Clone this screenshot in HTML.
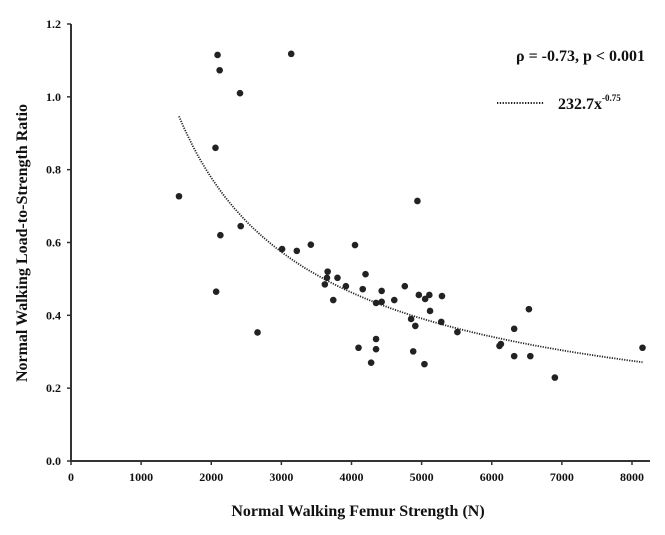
<!DOCTYPE html>
<html><head><meta charset="utf-8">
<style>
html,body{margin:0;padding:0;background:#fff;}
svg{display:block;font-family:"Liberation Serif",serif;font-weight:bold;}
</style></head>
<body>
<svg width="665" height="535" viewBox="0 0 665 535">
<g id="axes"></g>
<g id="marks"></g>
<text x="516" y="61" font-size="16" fill="#111">ρ = -0.73, p &lt; 0.001</text>
<line x1="497" y1="103" x2="544" y2="103" stroke="#222" stroke-width="2" stroke-dasharray="1.3,1.5"/>
<text x="558" y="109" font-size="16" fill="#111">232.7x<tspan font-size="9" dy="-8">-0.75</tspan></text>
<text x="358" y="516" font-size="16" text-anchor="middle" fill="#111">Normal Walking Femur Strength (N)</text>
<text transform="translate(27,243) rotate(-90)" font-size="16" text-anchor="middle" fill="#111">Normal Walking Load-to-Strength Ratio</text>
</svg>
<script>
const xTicks=[0,1000,2000,3000,4000,5000,6000,7000,8000];
const yTicks=[0,0.2,0.4,0.6,0.8,1.0,1.2];
const strength=[1540,2060,2090,2120,2130,2070,2410,2420,2660,3140,3010,3220,3420,4050,3620,3660,3650,3800,3740,3920,4200,4160,4350,4430,4430,4350,4350,4100,4280,4940,4610,4760,4960,5050,5110,5120,5290,5280,4850,4910,4880,5040,5510,6110,6130,6320,6320,6530,6550,6900,8150];
const ratio=[0.727,0.86,1.115,1.073,0.62,0.465,1.01,0.645,0.353,1.118,0.582,0.577,0.594,0.593,0.485,0.52,0.503,0.503,0.442,0.48,0.513,0.472,0.434,0.467,0.437,0.335,0.307,0.311,0.27,0.714,0.442,0.48,0.456,0.445,0.456,0.412,0.453,0.382,0.39,0.371,0.301,0.266,0.354,0.316,0.321,0.363,0.288,0.417,0.288,0.229,0.311];
const fitCoef=232.7, fitExp=-0.75, fitRange=[1540,8150];
const NS="http://www.w3.org/2000/svg";
const xs=v=>71+v*(632-71)/8000;
const ys=v=>461-v*(461-24)/1.2;
function mk(tag,attrs,parent,txt){const e=document.createElementNS(NS,tag);for(const k in attrs)e.setAttribute(k,attrs[k]);if(txt!==undefined)e.textContent=txt;parent.appendChild(e);return e;}
const ax=document.getElementById('axes'), mg=document.getElementById('marks');
let l=mk('line',{x1:71,y1:24,x2:71,y2:462,stroke:'#333','stroke-width':2},ax);


l=mk('line',{x1:70,y1:461,x2:650,y2:461,stroke:'#333','stroke-width':2},ax);


xTicks.forEach(t=>{
  mk('line',{x1:xs(t),y1:461,x2:xs(t),y2:465,stroke:'#333','stroke-width':1.5},ax);
  const tx=mk('text',{x:xs(t),y:481,'font-size':12,'text-anchor':'middle',fill:'#111'},ax,String(t));
  
  
});
yTicks.forEach(t=>{
  mk('line',{x1:67,y1:ys(t),x2:71,y2:ys(t),stroke:'#333','stroke-width':1.5},ax);
  const tx=mk('text',{x:61,y:ys(t)+4,'font-size':12,'text-anchor':'end',fill:'#111'},ax,t.toFixed(1));
  
  
});
let d='';
for(let i=0;i<=100;i++){const x=fitRange[0]+(fitRange[1]-fitRange[0])*i/100;const y=fitCoef*Math.pow(x,fitExp);d+=(i?'L':'M')+xs(x).toFixed(1)+','+ys(y).toFixed(1);}
const p=mk('path',{d:d,fill:'none',stroke:'#222','stroke-width':1.8,'stroke-dasharray':'1.2,1.3'},mg);


strength.forEach((s,i)=>{
  const c=mk('circle',{cx:xs(s),cy:ys(ratio[i]),r:3.3,fill:'#222'},mg);
  
  
});
</script>
</body></html>
